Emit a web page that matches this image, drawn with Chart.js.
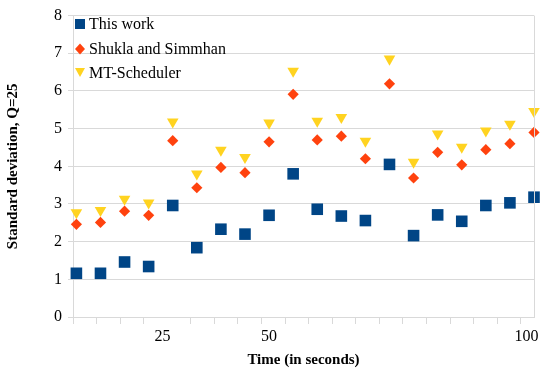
<!DOCTYPE html>
<html>
<head>
<meta charset="utf-8">
<script src="https://cdn.jsdelivr.net/npm/chart.js@4/dist/chart.umd.min.js"></script>
<style>
  html, body { margin: 0; padding: 0; background: #fff; }
  #wrap { width: 550px; height: 375px; }
</style>
</head>
<body>
<div id="wrap"><canvas id="chart" width="550" height="375"></canvas></div>
<script>
// sample number along the time axis
const samples = [1, 2, 3, 4, 5, 6, 7, 8, 9, 10, 11, 12, 13, 14, 15, 16, 17, 18, 19, 20];

const thisWork = [1.16, 1.16, 1.46, 1.34, 2.96, 1.84, 2.33, 2.20, 2.70, 3.80,
                  2.86, 2.68, 2.56, 4.05, 2.16, 2.71, 2.54, 2.96, 3.03, 3.18];
const shuklaSimmhan = [2.46, 2.51, 2.81, 2.70, 4.68, 3.43, 3.97, 3.83, 4.65, 5.91,
                       4.70, 4.80, 4.20, 6.19, 3.69, 4.37, 4.04, 4.44, 4.60, 4.90];
const mtScheduler = [2.77, 2.83, 3.13, 3.03, 5.18, 3.80, 4.43, 4.24, 5.15, 6.53,
                     5.20, 5.30, 4.67, 6.85, 4.11, 4.86, 4.51, 4.94, 5.12, 5.46];

// time labels and where they sit on the sample axis
const xTickLabels = ['25', '50', '100'];
const xTickAt = [4.57, 9.0, 19.69];

const FONT = '"Liberation Serif", "Times New Roman", serif';
const GRID = '#d9d9d9';
const MINOR_START = 0.859;   // first minor tick (left edge)
const MINOR_STEP = 0.9784;
const SKIP_MINOR = [4];      // no mark under the "25" label

const toPoints = arr => arr.map((v, i) => ({ x: samples[i], y: v }));

// Right frame line + legend in the top-left corner of the plot
const framePlugin = {
  id: 'frame',
  afterDraw(chart) {
    const { ctx, chartArea: a } = chart;
    ctx.save();
    ctx.strokeStyle = GRID;
    ctx.lineWidth = 1;
    ctx.beginPath();
    ctx.moveTo(Math.round(a.right) + 0.5, a.top);
    ctx.lineTo(Math.round(a.right) + 0.5, a.bottom);
    ctx.stroke();

    const rows = [24, 49, 72.5];
    const mx = 80;
    chart.data.datasets.forEach((ds, i) => {
      const y = rows[i];
      ctx.fillStyle = ds.backgroundColor;
      ctx.beginPath();
      if (ds.pointStyle === 'rect') {
        ctx.rect(mx - 5, y - 5, 10, 10);
      } else if (ds.pointStyle === 'rectRot') {
        ctx.moveTo(mx, y - 5.5);
        ctx.lineTo(mx + 5, y);
        ctx.lineTo(mx, y + 5.5);
        ctx.lineTo(mx - 5, y);
        ctx.closePath();
      } else {
        ctx.moveTo(mx - 5, y - 4.5);
        ctx.lineTo(mx + 5, y - 4.5);
        ctx.lineTo(mx, y + 4.5);
        ctx.closePath();
      }
      ctx.fill();
      ctx.fillStyle = '#000';
      ctx.font = '16px ' + FONT;
      ctx.textBaseline = 'middle';
      ctx.textAlign = 'left';
      ctx.fillText(ds.label, 89, y + 1);
    });
    ctx.restore();
  }
};

const common = { showLine: false, borderWidth: 0, clip: false, pointHoverRadius: 8 };

new Chart(document.getElementById('chart'), {
  type: 'scatter',
  plugins: [framePlugin],
  data: {
    datasets: [
      {
        ...common,
        label: 'This work',
        data: toPoints(thisWork),
        backgroundColor: '#004586',
        pointStyle: 'rect',
        pointRadius: 8.2
      },
      {
        ...common,
        label: 'Shukla and Simmhan',
        data: toPoints(shuklaSimmhan),
        backgroundColor: '#ff420e',
        pointStyle: 'rectRot',
        pointRadius: 5.6
      },
      {
        ...common,
        label: 'MT-Scheduler',
        data: toPoints(mtScheduler),
        backgroundColor: '#ffd320',
        pointStyle: 'triangle',
        rotation: 180,
        pointRadius: 6.7
      }
    ]
  },
  options: {
    responsive: false,
    animation: false,
    layout: { padding: { top: 11, right: 16, left: 0, bottom: 0 } },
    plugins: {
      legend: { display: false },
      tooltip: { enabled: true }
    },
    scales: {
      x: {
        type: 'linear',
        min: MINOR_START,
        max: 20,
        afterFit: s => { s.height = 58; },
        afterBuildTicks: s => {
          const ticks = [];
          for (let k = 0; k < 20; k++) {
            if (SKIP_MINOR.includes(k)) continue;
            ticks.push({ value: MINOR_START + k * MINOR_STEP });
          }
          xTickAt.forEach(v => ticks.push({ value: v }));
          ticks.sort((a, b) => a.value - b.value);
          s.ticks = ticks;
        },
        ticks: {
          autoSkip: false,
          maxRotation: 0,
          padding: 3,
          color: '#000',
          font: { family: FONT, size: 16 },
          callback: v => {
            const j = xTickAt.indexOf(v);
            return j >= 0 ? xTickLabels[j] : '';
          }
        },
        grid: {
          drawOnChartArea: false,
          drawTicks: true,
          tickLength: 7,
          color: c => (c.tick && xTickAt.includes(c.tick.value)) ? 'rgba(0,0,0,0)' : GRID
        },
        border: { color: GRID },
        title: {
          display: true,
          text: 'Time (in seconds)',
          color: '#000',
          font: { family: FONT, size: 15, weight: 'bold' },
          padding: { top: 0, bottom: 6 }
        }
      },
      y: {
        min: 0,
        max: 8,
        afterFit: s => { s.width = 73; },
        ticks: {
          stepSize: 1,
          padding: 6,
          color: '#000',
          font: { family: FONT, size: 16 }
        },
        grid: { color: GRID, tickLength: 5 },
        border: { color: GRID },
        title: {
          display: true,
          text: 'Standard deviation, Q=25',
          color: '#000',
          font: { family: FONT, size: 15, weight: 'bold' },
          padding: { top: 4, bottom: 0 }
        }
      }
    }
  }
});
</script>
</body>
</html>
